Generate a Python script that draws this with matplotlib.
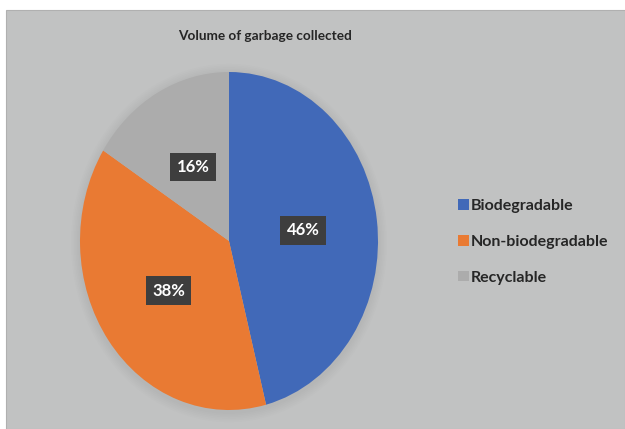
import matplotlib
matplotlib.use('Agg')
import matplotlib.pyplot as plt
from matplotlib.patches import Rectangle, Ellipse

plt.rcParams['font.family'] = ['Lato', 'DejaVu Sans']

# --- data ---
title = 'Volume of garbage collected'
categories = ['Biodegradable', 'Non-biodegradable', 'Recyclable']
shares = [46, 38, 16]
colors = ['#4169b8', '#e97a33', '#acacac']

BG = '#c1c2c2'

fig = plt.figure(figsize=(6.25, 4.29), dpi=100)
fig.patch.set_facecolor('white')

# gray chart area (white strip on top and left)
bg = fig.add_axes([0, 0, 1, 1], zorder=-1)
bg.axis('off')
bg.add_patch(Rectangle((6 / 625, 0), 1 - 6 / 625, 1 - 10 / 429,
                       transform=bg.transAxes, facecolor=BG,
                       edgecolor='#b0b0b0', linewidth=0.8))

# pie is drawn as an ellipse, so the axes box is the ellipse box
ax = fig.add_axes([80 / 625, 19 / 429, 298 / 625, 338 / 429])
ax.set_facecolor('none')

# soft shadow round the pie
for k in range(6):
    s = 1.0 + 0.01 * (k + 1)
    ax.add_patch(Ellipse((0, -0.012), 2 * s, 2 * s, facecolor='#808080',
                         edgecolor='none', alpha=0.025, zorder=0,
                         clip_on=False))

wedges, texts, autotexts = ax.pie(
    shares, colors=colors, startangle=90, counterclock=False,
    autopct='%d%%', pctdistance=0.5, radius=1.0,
    wedgeprops=dict(linewidth=0, zorder=1),
    textprops=dict(color='white', fontsize=12, fontweight='bold'))
for t in autotexts:
    t.set_zorder(3)
    t.set_bbox(dict(boxstyle='square,pad=0.38', facecolor='#3e3e3e',
                    edgecolor='none'))
ax.set_aspect('auto')
ax.set_xlim(-1, 1)
ax.set_ylim(-1, 1)

fig.text(265 / 625, 1 - 36 / 429, title, ha='center', va='center',
         fontsize=9.8, fontweight='bold', color='#262626')

leg = fig.legend(wedges, categories, loc='center left',
                 bbox_to_anchor=(444 / 625, 1 - 242 / 429),
                 frameon=False, handlelength=0.65, handleheight=0.65,
                 handletextpad=0.15, labelspacing=1.35,
                 prop=dict(size=11.5, weight='bold'))
for t in leg.get_texts():
    t.set_color('#262626')

plt.savefig('out.png', dpi=100, facecolor=fig.get_facecolor())
